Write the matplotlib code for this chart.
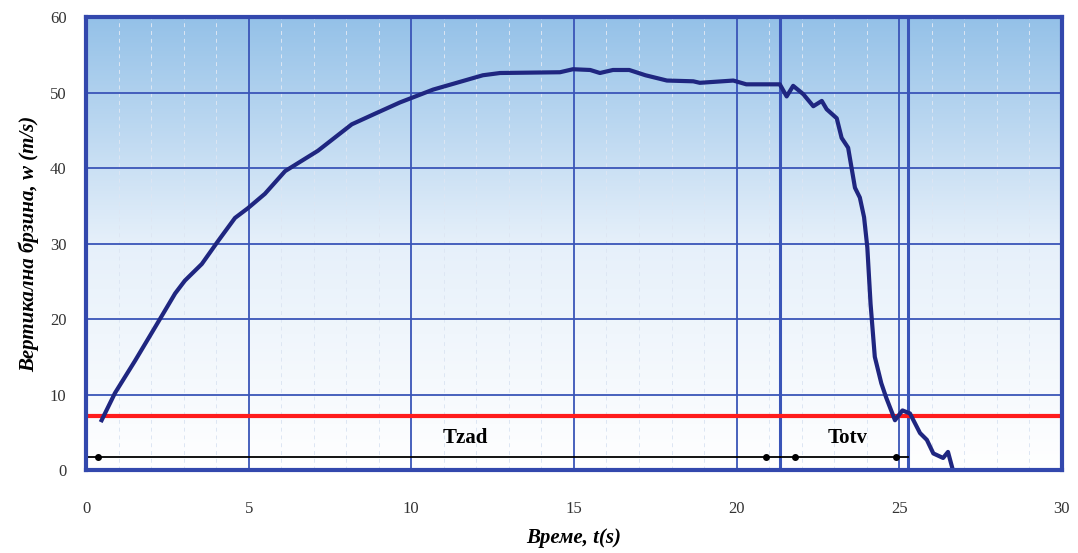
import numpy as np
import matplotlib.pyplot as plt
from matplotlib.colors import LinearSegmentedColormap

# vertical speed over time
t = [0.48, 0.89, 1.51, 2.12, 2.74, 3.04, 3.56, 4.07, 4.58, 4.98, 5.5, 6.12,
     7.13, 8.17, 8.88, 9.65, 10.67, 12.2, 12.73, 14.57, 14.97, 15.5, 15.8,
     16.2, 16.7, 17.2, 17.86, 18.67, 18.87, 19.9, 20.3, 21.33, 21.54, 21.74,
     22.05, 22.36, 22.62, 22.77, 23.08, 23.23, 23.43, 23.64, 23.79, 23.92,
     24.02, 24.12, 24.25, 24.45, 24.6, 24.87, 25.1, 25.33, 25.64, 25.85,
     26.05, 26.35, 26.5, 26.65]
w = [6.6, 10.2, 14.5, 18.9, 23.4, 25.1, 27.3, 30.4, 33.4, 34.7, 36.6, 39.6,
     42.3, 45.8, 47.2, 48.7, 50.4, 52.3, 52.6, 52.7, 53.1, 53.0, 52.6,
     53.0, 53.0, 52.3, 51.6, 51.5, 51.3, 51.6, 51.1, 51.1, 49.5, 50.9,
     49.8, 48.2, 48.9, 47.8, 46.6, 44.0, 42.7, 37.4, 36.1, 33.5,
     29.5, 22.0, 15.0, 11.5, 9.6, 6.6, 7.9, 7.5, 4.9, 4.0,
     2.2, 1.6, 2.4, 0.0]

threshold = 7.2
t_open = 21.33      # end of Tzad
t_end = 25.27       # end of Totv
arrow_y = 1.7

fig = plt.figure(figsize=(10.78, 5.53), dpi=100)
ax = fig.add_axes([0.0798, 0.150, 0.9052, 0.819])
ax.set_xlim(0, 30)
ax.set_ylim(0, 60)

# gradient background
cmap = LinearSegmentedColormap.from_list('bg', ['#ffffff', '#e6f0fa', '#94c1e8'])
grad = np.linspace(0, 1, 256).reshape(-1, 1)
ax.imshow(grad, cmap=cmap, aspect='auto', extent=[0, 30, 0, 60],
          origin='lower', zorder=0)

gridc = '#3a55b8'
for xm in np.arange(1, 30):
    if xm % 5:
        ax.axvline(xm, color='#dde6f3', lw=0.7, ls=(0, (4, 4)), zorder=1)
for xv in np.arange(5, 30, 5):
    ax.axvline(xv, color=gridc, lw=1.3, zorder=2)
for yv in np.arange(10, 60, 10):
    ax.axhline(yv, color=gridc, lw=1.3, zorder=2)
ax.axvline(t_open, color=gridc, lw=2.2, zorder=2)
ax.axvline(t_end, color=gridc, lw=2.2, zorder=2)

ax.axhline(threshold, color='#ff1c1c', lw=3, zorder=3)
ax.plot(t, w, color='#1f2680', lw=3, zorder=4, solid_joinstyle='round')

# time intervals
ax.plot([0, t_open], [arrow_y, arrow_y], color='black', lw=1.3, zorder=5)
ax.plot([t_open, t_end], [arrow_y, arrow_y], color='black', lw=1.3, zorder=5)
ax.plot([0.37, 20.9, 21.8, 24.9], [arrow_y] * 4, 'o', color='black', ms=4, zorder=5)
ax.text(11.65, 4.3, 'Tzad', ha='center', va='center', fontsize=15,
        fontweight='bold', family='Liberation Serif', zorder=6)
ax.text(23.4, 4.3, 'Totv', ha='center', va='center', fontsize=15,
        fontweight='bold', family='Liberation Serif', zorder=6)

for s in ax.spines.values():
    s.set_color('#3348ad')
    s.set_linewidth(3)
    s.set_zorder(7)

ax.set_xticks(np.arange(0, 31, 5))
ax.set_yticks(np.arange(0, 61, 10))
ax.tick_params(length=0, labelsize=12, colors='#333333')
ax.tick_params(axis='x', pad=22)
ax.tick_params(axis='y', pad=14)
for lab in ax.get_xticklabels() + ax.get_yticklabels():
    lab.set_family('Liberation Serif')

ax.set_xlabel('Време, t(s)', fontsize=15, fontweight='bold', style='italic',
              family='Liberation Serif', labelpad=8)
ax.set_ylabel('Вертикална брзина, w (m/s)', fontsize=15, fontweight='bold',
              style='italic', family='Liberation Serif', labelpad=8)

fig.savefig('out.png', dpi=100)
